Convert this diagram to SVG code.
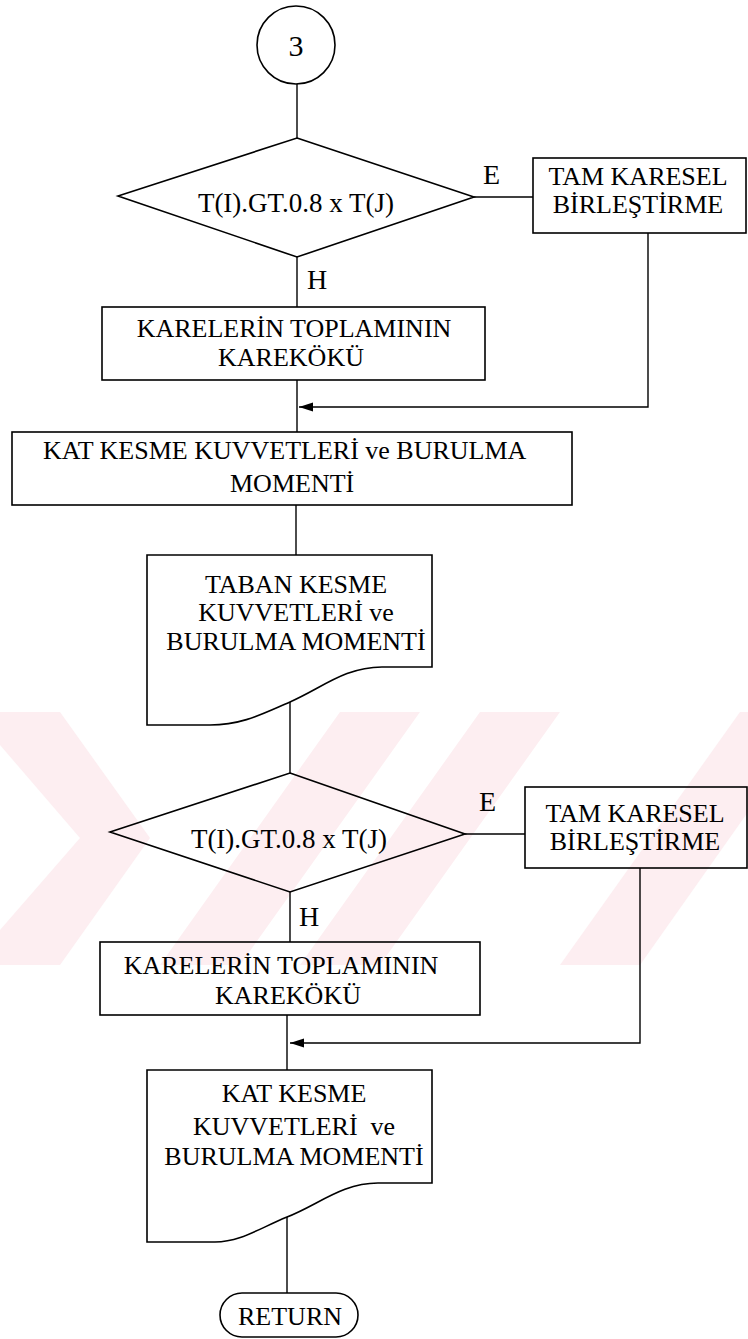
<svg xmlns="http://www.w3.org/2000/svg" width="748" height="1339" viewBox="0 0 748 1339">
<defs>
<marker id="ah" markerWidth="16" markerHeight="10" refX="14" refY="4.5" orient="auto" markerUnits="userSpaceOnUse">
<path d="M0,0 L14,4.5 L0,9 Z" fill="#000"/>
</marker>
<style>
.s{fill:none;stroke:#000;stroke-width:1.6}
.c{fill:none;stroke:#000;stroke-width:1.4}
.w{fill:#fdeef1;stroke:none}
text{font-family:"Liberation Serif","Times New Roman",serif;font-size:26px;fill:#000}
.m{text-anchor:middle}
.l{font-size:28px}
</style>
</defs>
<rect width="748" height="1339" fill="#fff"/>
<g id="watermark">
<polygon class="w" points="0,712 60,712 150,838 60,965 0,965 0,930 80,838 0,745"/>
<polygon class="w" points="160,965 240,965 420,712 340,712"/>
<polygon class="w" points="300,965 380,965 560,712 480,712"/>
<polygon class="w" points="560,965 640,965 748,812 748,712 740,712"/>
</g>
<g id="connectors">
<line class="c" x1="297" y1="84" x2="297" y2="138"/>
<line class="c" x1="474" y1="197" x2="533" y2="197"/>
<line class="c" x1="297" y1="257" x2="297" y2="307"/>
<line class="c" x1="297" y1="380" x2="297" y2="432"/>
<polyline class="c" points="648,233 648,407 299,407" marker-end="url(#ah)"/>
<line class="c" x1="296" y1="505" x2="296" y2="555"/>
<line class="c" x1="290" y1="702" x2="290" y2="773"/>
<line class="c" x1="465" y1="834" x2="525" y2="834"/>
<line class="c" x1="290" y1="892" x2="290" y2="942"/>
<line class="c" x1="287" y1="1015" x2="287" y2="1070"/>
<polyline class="c" points="640,868 640,1043 290,1043" marker-end="url(#ah)"/>
<line class="c" x1="287" y1="1217" x2="287" y2="1293"/>
<text x="483" y="184" class="l">E</text>
<text x="307" y="289" class="l">H</text>
<text x="479" y="811" class="l">E</text>
<text x="299" y="926" class="l">H</text>
</g>
<g id="start3">
<circle class="s" cx="296" cy="45" r="39"/>
<text x="296" y="56" class="m" style="font-size:30px">3</text>
</g>
<g id="decision1">
<polygon class="s" points="297,138 474,197 297,257 118,196"/>
<text x="296" y="212" class="m" style="font-size:27px">T(I).GT.0.8 x T(J)</text>
</g>
<g id="tam1">
<rect class="s" x="533" y="158" width="213" height="75"/>
<text x="638" y="185" class="m">TAM KARESEL</text>
<text x="638" y="213" class="m">BİRLEŞTİRME</text>
</g>
<g id="kare1">
<rect class="s" x="102" y="307" width="383" height="73"/>
<text x="294" y="337" class="m">KARELERİN TOPLAMININ</text>
<text x="291" y="366" class="m">KAREKÖKÜ</text>
</g>
<g id="kat1">
<rect class="s" x="12" y="432" width="560" height="73"/>
<text x="43" y="459">KAT KESME KUVVETLERİ ve BURULMA</text>
<text x="230" y="492">MOMENTİ</text>
</g>
<g id="taban">
<path class="s" d="M147,555 H432 V667 H382 C345,667 322,688 290,702 C262,714 242,725 210,725 H147 Z"/>
<text x="296" y="593" class="m">TABAN KESME</text>
<text x="296" y="621" class="m">KUVVETLERİ ve</text>
<text x="296" y="650" class="m">BURULMA MOMENTİ</text>
</g>
<g id="decision2">
<polygon class="s" points="290,773 465,834 290,892 110,832"/>
<text x="289" y="848" class="m" style="font-size:27px">T(I).GT.0.8 x T(J)</text>
</g>
<g id="tam2">
<rect class="s" x="525" y="787" width="222" height="81"/>
<text x="635" y="822" class="m">TAM KARESEL</text>
<text x="635" y="850" class="m">BİRLEŞTİRME</text>
</g>
<g id="kare2">
<rect class="s" x="100" y="942" width="380" height="73"/>
<text x="281" y="974" class="m">KARELERİN TOPLAMININ</text>
<text x="288" y="1004" class="m">KAREKÖKÜ</text>
</g>
<g id="kat2">
<path class="s" d="M147,1070 H432 V1183 H378 C342,1183 318,1205 287,1217 C258,1229 240,1242 215,1242 H147 Z"/>
<text x="294" y="1102" class="m">KAT KESME</text>
<text x="294" y="1135" class="m" xml:space="preserve">KUVVETLERİ  ve</text>
<text x="294" y="1165" class="m">BURULMA MOMENTİ</text>
</g>
<g id="return">
<rect class="s" x="220" y="1293" width="138" height="44" rx="22"/>
<text x="290" y="1325" class="m">RETURN</text>
</g>
</svg>
